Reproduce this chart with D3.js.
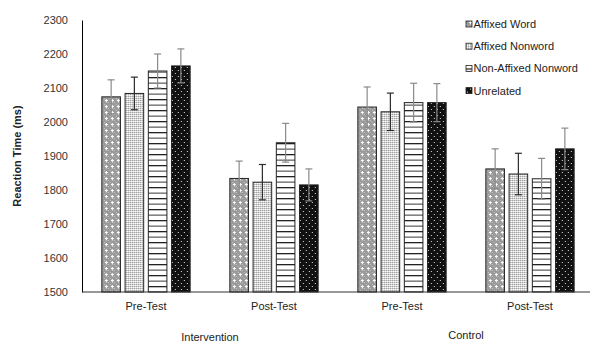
<!DOCTYPE html>
<html>
<head>
<meta charset="utf-8">
<script src="https://cdn.jsdelivr.net/npm/d3@7"></script>
<style>
  body { margin: 0; background: #fff; }
  svg text { font-family: "Liberation Sans", Arial, sans-serif; }
</style>
</head>
<body>
<div id="chart"></div>
<script>
//  Define width and height
var chart_width     =   590;
var chart_height    =   345;

// Data
var conditions      =   [ "Intervention", "Control" ];
var tests           =   [ "Pre-Test", "Post-Test", "Pre-Test", "Post-Test" ];
var series          =   [ "Affixed Word", "Affixed Nonword", "Non-Affixed Nonword", "Unrelated" ];
var affixed_word        =   [ 2074, 1834, 2044, 1862 ];
var affixed_nonword     =   [ 2084, 1823, 2030, 1847 ];
var non_affixed_nonword =   [ 2150, 1939, 2057, 1833 ];
var unrelated           =   [ 2165, 1815, 2057, 1921 ];
var err_affixed_word        =   [ 50, 51, 59, 59 ];
var err_affixed_nonword     =   [ 48, 52, 55, 61 ];
var err_non_affixed_nonword =   [ 50, 57, 57, 60 ];
var err_unrelated           =   [ 50, 47, 56, 61 ];
var y_ticks         =   [ 1500, 1600, 1700, 1800, 1900, 2000, 2100, 2200, 2300 ];

var values  = [ affixed_word, affixed_nonword, non_affixed_nonword, unrelated ];
var errors  = [ err_affixed_word, err_affixed_nonword, err_non_affixed_nonword, err_unrelated ];
var err_colors = [ "#8a8a8a", "#2a2a2a", "#8a8a8a", "#8a8a8a" ];

// Create SVG
var svg = d3.select("#chart").append("svg")
    .attr("width", chart_width)
    .attr("height", chart_height);

// Patterns
var defs = svg.append("defs");

var p1 = defs.append("pattern").attr("id", "pat0")
    .attr("patternUnits", "userSpaceOnUse").attr("width", 6).attr("height", 6);
p1.append("rect").attr("width", 6).attr("height", 6).attr("fill", "#9a9a9a");
p1.append("rect").attr("x", 0).attr("y", 0).attr("width", 1).attr("height", 1).attr("fill", "#c8c8c8");
p1.append("rect").attr("x", 2).attr("y", 2).attr("width", 1).attr("height", 1).attr("fill", "#c8c8c8");
p1.append("rect").attr("x", 4).attr("y", 0).attr("width", 1).attr("height", 1).attr("fill", "#c8c8c8");
p1.append("rect").attr("x", 3).attr("y", 4).attr("width", 3).attr("height", 1).attr("fill", "#fff");
p1.append("rect").attr("x", 4).attr("y", 3).attr("width", 1).attr("height", 3).attr("fill", "#fff");

var p2 = defs.append("pattern").attr("id", "pat1")
    .attr("patternUnits", "userSpaceOnUse").attr("width", 2).attr("height", 2);
p2.append("rect").attr("width", 2).attr("height", 2).attr("fill", "#d8d8d8");
p2.append("rect").attr("x", 0).attr("y", 0).attr("width", 1).attr("height", 1).attr("fill", "#9a9a9a");
p2.append("rect").attr("x", 1).attr("y", 1).attr("width", 1).attr("height", 1).attr("fill", "#ffffff");

var p3 = defs.append("pattern").attr("id", "pat2")
    .attr("patternUnits", "userSpaceOnUse").attr("width", 4).attr("height", 11);
p3.append("rect").attr("width", 4).attr("height", 11).attr("fill", "#fff");
p3.append("rect").attr("y", 0).attr("width", 4).attr("height", 1.3).attr("fill", "#222");
p3.append("rect").attr("y", 5.5).attr("width", 4).attr("height", 1.3).attr("fill", "#666");

var p4 = defs.append("pattern").attr("id", "pat3")
    .attr("patternUnits", "userSpaceOnUse").attr("width", 6).attr("height", 6);
p4.append("rect").attr("width", 6).attr("height", 6).attr("fill", "#111");
p4.append("rect").attr("x", 1).attr("y", 1).attr("width", 1).attr("height", 1).attr("fill", "#ddd");
p4.append("rect").attr("x", 4).attr("y", 4).attr("width", 1).attr("height", 1).attr("fill", "#ddd");

// Scales
var x0 = d3.scaleBand()
    .domain(d3.range(tests.length))
    .range([ 82, 594 ])
    .paddingInner(0.31)
    .paddingOuter(0.155);

var x1 = d3.scaleBand()
    .domain(d3.range(series.length))
    .range([ 0, x0.bandwidth() ])
    .paddingInner(0.2);

var y = d3.scaleLinear()
    .domain([ 1500, 2300 ])
    .range([ 292, 20 ]);

// Y axis
var yAxis = svg.append("g")
    .attr("transform", "translate(82,0)")
    .call(d3.axisLeft(y).tickValues(y_ticks).tickSize(0).tickPadding(14).tickFormat(d3.format("d")));
yAxis.select(".domain").attr("stroke", "#000");
yAxis.selectAll("text").attr("font-size", 11).attr("fill", "#333")
    .attr("font-family", "Liberation Sans, Arial, sans-serif");

svg.append("text")
    .attr("transform", "translate(21," + y(1900) + ") rotate(-90)")
    .attr("text-anchor", "middle")
    .attr("font-size", 11)
    .attr("font-weight", "bold")
    .attr("fill", "#222")
    .text("Reaction Time (ms)");

// Bars
var groups = svg.selectAll("g.group")
    .data(tests)
    .enter().append("g")
    .attr("class", "group")
    .attr("transform", function(d, i){ return "translate(" + x0(i) + ",0)"; });

groups.each(function(t, gi){
    var g = d3.select(this);
    series.forEach(function(s, si){
        var v = values[si][gi];
        g.append("rect")
            .attr("x", x1(si))
            .attr("y", y(v))
            .attr("width", x1.bandwidth())
            .attr("height", y(1500) - y(v))
            .attr("fill", "url(#pat" + si + ")")
            .attr("stroke", "#222")
            .attr("stroke-width", 1);
    });
    series.forEach(function(s, si){
        var v = values[si][gi], e = errors[si][gi];
        var cx = x1(si) + x1.bandwidth() / 2;
        g.append("line")
            .attr("x1", cx).attr("x2", cx)
            .attr("y1", y(v + e)).attr("y2", y(v - e))
            .attr("stroke", err_colors[si]).attr("stroke-width", 1.2);
        [ v + e, v - e ].forEach(function(c){
            g.append("line")
                .attr("x1", cx - 3.5).attr("x2", cx + 3.5)
                .attr("y1", y(c)).attr("y2", y(c))
                .attr("stroke", err_colors[si]).attr("stroke-width", 1.2);
        });
    });
});

// X baseline
svg.append("line")
    .attr("x1", 82).attr("x2", 594)
    .attr("y1", y(1500)).attr("y2", y(1500))
    .attr("stroke", "#333").attr("stroke-width", 1.2);

// Category labels
svg.selectAll("text.test")
    .data(tests)
    .enter().append("text")
    .attr("class", "test")
    .attr("x", function(d, i){ return x0(i) + x0.bandwidth() / 2; })
    .attr("y", 310)
    .attr("text-anchor", "middle")
    .attr("font-size", 11)
    .attr("fill", "#222")
    .text(function(d){ return d; });

svg.selectAll("text.cond")
    .data(conditions)
    .enter().append("text")
    .attr("class", "cond")
    .attr("x", function(d, i){ return (x0(i * 2) + x0(i * 2 + 1) + x0.bandwidth()) / 2; })
    .attr("y", function(d, i){ return i === 0 ? 341 : 339; })
    .attr("text-anchor", "middle")
    .attr("font-size", 11)
    .attr("fill", "#222")
    .text(function(d){ return d; });

// Legend
var legend = svg.append("g").attr("transform", "translate(466,24)");
var items = legend.selectAll("g")
    .data(series)
    .enter().append("g")
    .attr("transform", function(d, i){ return "translate(0," + (i * 22.2) + ")"; });
items.append("rect")
    .attr("x", 0).attr("y", -3)
    .attr("width", 6).attr("height", 6)
    .attr("fill", function(d, i){ return "url(#pat" + i + ")"; })
    .attr("stroke", "#222").attr("stroke-width", 0.8);
items.append("text")
    .attr("x", 7.5).attr("y", 4)
    .attr("font-size", 11)
    .attr("fill", "#222")
    .text(function(d){ return d; });
</script>
</body>
</html>
